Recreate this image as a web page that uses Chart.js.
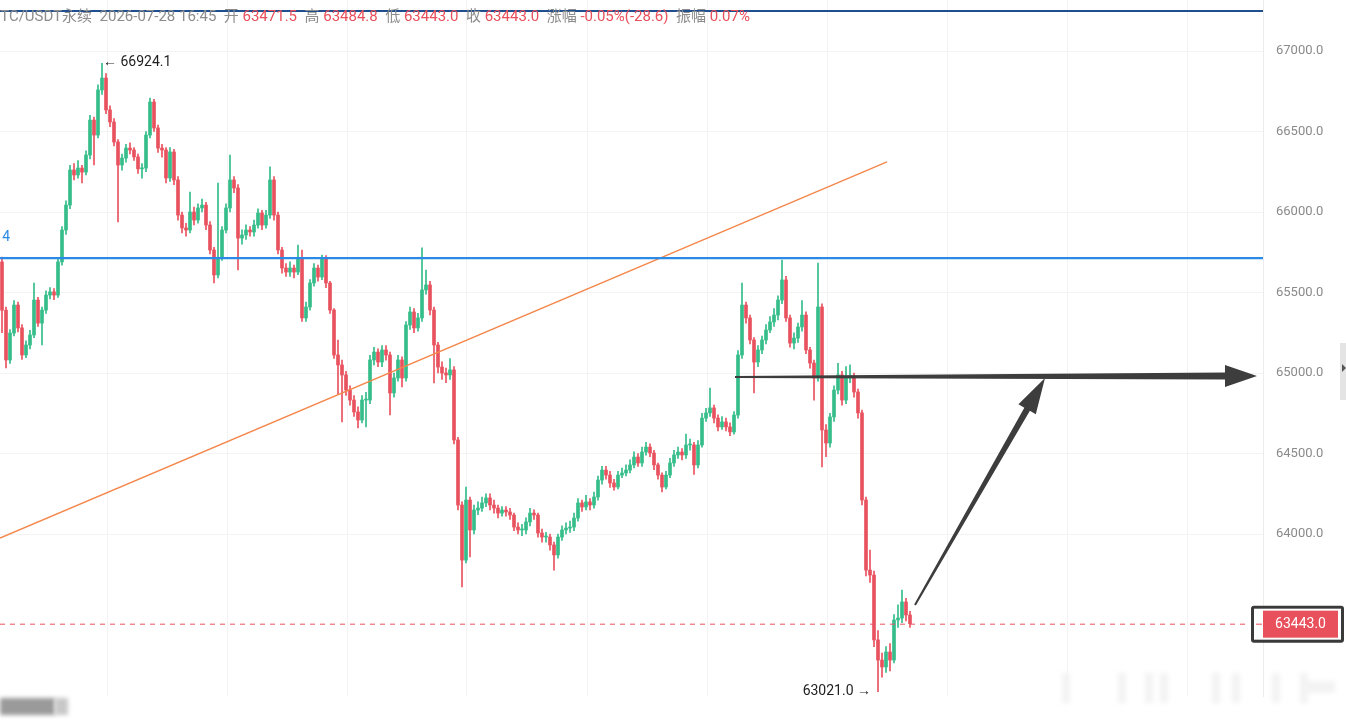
<!DOCTYPE html>
<html>
<head>
<meta charset="utf-8">
<script src="https://cdn.jsdelivr.net/npm/chart.js@4.4.1/dist/chart.umd.min.js"></script>
<style>
  html, body { margin: 0; padding: 0; background: #fff; overflow: hidden; }
  #wrap { position: relative; width: 1346px; height: 720px; }
  #hdr {
    position: absolute; left: -9px; top: 4px; white-space: nowrap;
    font: 15px Roboto, "Noto Sans CJK SC", sans-serif; color: #8c8c8c;
  }
  #hdr .r { color: #e8505b; }
</style>
</head>
<body>
<div id="wrap">
  <canvas id="kline" width="1346" height="720"></canvas>
  <div id="hdr">BTC/USDT永续&nbsp; 2026-07-28 16:45&nbsp; 开 <span class="r">63471.5</span>&nbsp; 高 <span class="r">63484.8</span>&nbsp; 低 <span class="r">63443.0</span>&nbsp; 收 <span class="r">63443.0</span>&nbsp; 涨幅 <span class="r">-0.05%(-28.6)</span>&nbsp; 振幅 <span class="r">0.07%</span></div>
</div>
<script>
// Velas (índice de vela, precios)
const opens = [65690,65390,65081,65248,65422,65280,65112,65174,65236,65453,65310,65391,65484,65504,65484,65690,65888,66043,66261,66230,
  66273,66248,66354,66571,66478,66758,66832,66634,66559,66435,66292,66335,66397,66385,66342,66268,66273,66478,66683,66522,
  66397,66385,66211,66373,66199,65981,65901,65888,66000,65950,66025,66043,65919,65764,65609,65714,65888,66025,66199,66149,
  65838,65857,65888,65876,65919,65994,65919,65981,66199,65981,65764,65652,65627,65652,65627,65714,65342,65410,65559,65652,
  65596,65714,65559,65391,65112,65050,64988,64894,64832,64758,64708,64832,64832,65081,65130,65068,65143,65112,64876,64969,
  65081,64969,65298,65379,65280,65342,65516,65547,65391,65174,65037,65000,64988,65019,64584,64180,63838,64211,64025,64149,
  64161,64193,64224,64180,64161,64130,64149,64137,64118,64043,64025,64025,64075,64130,64118,64006,63981,63981,63932,63870,
  63981,64025,64037,64043,64099,64193,64168,64199,64180,64230,64335,64397,64366,64317,64292,64366,64379,64397,64429,64478,
  64441,64509,64540,64503,64429,64366,64292,64366,64441,64491,64509,64491,64553,64553,64429,64553,64720,64752,64783,64720,
  64665,64696,64665,64634,64739,65112,65422,65342,65205,65068,65143,65205,65267,65317,65360,65453,65578,65342,65186,65217,
  65286,65360,65143,65062,64969,65410,64646,64565,64727,64894,64988,64832,64969,64981,64882,64752,64211,63776,63745,63342,
  63217,63174,63267,63217,63466,63478,63578,63497];
const closes = [65390,65081,65248,65422,65280,65112,65174,65236,65453,65310,65391,65484,65504,65484,65690,65888,66043,66261,66230,66273,
  66248,66354,66571,66478,66758,66832,66634,66559,66435,66292,66335,66397,66385,66342,66268,66273,66478,66683,66522,66397,
  66385,66211,66373,66199,65981,65901,65888,66000,65950,66025,66043,65919,65764,65609,65714,65888,66025,66199,66149,65838,
  65857,65888,65876,65919,65994,65919,65981,66199,65981,65764,65652,65627,65652,65627,65714,65342,65410,65559,65652,65596,
  65714,65559,65391,65112,65050,64988,64894,64832,64758,64708,64832,64832,65081,65130,65068,65143,65112,64876,64969,65081,
  64969,65298,65379,65280,65342,65516,65547,65391,65174,65037,65000,64988,65019,64584,64180,63838,64211,64025,64149,64161,
  64193,64224,64180,64161,64130,64149,64137,64118,64043,64025,64025,64075,64130,64118,64006,63981,63981,63932,63870,63981,
  64025,64037,64043,64099,64193,64168,64199,64180,64230,64335,64397,64366,64317,64292,64366,64379,64397,64429,64478,64441,
  64509,64540,64503,64429,64366,64292,64366,64441,64491,64509,64491,64553,64553,64429,64553,64720,64752,64783,64720,64665,
  64696,64665,64634,64739,65112,65422,65342,65205,65068,65143,65205,65267,65317,65360,65453,65578,65342,65186,65217,65286,
  65360,65143,65062,64969,65410,64646,64565,64727,64894,64988,64832,64969,64981,64882,64752,64211,63776,63745,63342,63217,
  63174,63267,63217,63466,63478,63578,63497,63443];
const highs = [65720,65410,65270,65450,65440,65300,65200,65265,65559,65470,65410,65510,65530,65525,65715,65910,66070,66290,66300,66320,
  66290,66380,66600,66590,66790,66924.1,66860,66660,66580,66450,66360,66420,66430,66400,66360,66300,66500,66708,66700,66540,
  66420,66400,66400,66390,66220,66000,65930,66124,66030,66050,66080,66060,65940,65780,66180,65910,66050,66354,66220,66170,
  65890,65920,65910,65950,66020,66010,66010,66280,66220,66000,65780,65680,65690,65670,65795,65764,65440,65580,65680,65670,
  65733,65730,65570,65400,65205,65080,65010,64920,64860,64790,64860,64880,65110,65160,65150,65170,65170,65130,65000,65110,
  65100,65320,65410,65400,65370,65777,65640,65570,65410,65190,65070,65030,65090,65040,64600,64200,64292,64230,64180,64200,
  64230,64250,64250,64210,64180,64170,64170,64160,64130,64070,64060,64100,64160,64150,64130,64030,64010,64000,63950,64000,
  64050,64070,64080,64130,64220,64210,64240,64220,64260,64360,64420,64420,64390,64340,64390,64410,64430,64460,64510,64500,
  64540,64570,64560,64520,64440,64380,64390,64470,64520,64540,64530,64620,64590,64570,64580,64750,64780,64907,64800,64740,
  64730,64720,64690,64760,65140,65559,65440,65360,65220,65170,65230,65300,65350,65400,65480,65702,65600,65360,65250,65310,
  65450,65380,65160,65080,65683,65430,64680,64750,64920,65060,65010,65040,65050,65000,64900,64770,64230,63900,63770,63400,
  63260,63300,63320,63500,63560,63652,63600,63520];
const lows = [65250,65031,65060,65230,65255,65085,65095,65150,65220,65290,65174,65370,65460,65455,65470,65670,65860,66020,66200,66210,
  66180,66230,66330,66292,66460,66730,66610,66530,66410,65938,66260,66310,66360,66320,66240,66210,66250,66460,66500,66370,
  66340,66180,66190,66170,65950,65870,65850,65870,65920,65930,66000,65890,65740,65559,65590,65700,65870,66000,66120,65640,
  65800,65830,65850,65850,65900,65890,65900,65960,65950,65740,65620,65600,65600,65590,65610,65320,65320,65390,65540,65570,
  65580,65530,65370,65090,64870,64696,64860,64800,64730,64659,64690,64665,64810,65050,65040,65040,65080,64739,64850,64950,
  64913,64950,65270,65250,65260,65320,65490,65360,64938,65000,64960,64940,64960,64560,64150,63671,63820,63857,64000,64120,
  64140,64170,64150,64130,64100,64110,64110,64090,64020,64000,63990,64000,64050,64090,63980,63950,63950,63900,63776,63850,
  63960,64000,64010,64020,64080,64140,64150,64150,64160,64210,64310,64340,64290,64273,64280,64350,64360,64380,64410,64420,
  64420,64490,64480,64400,64340,64261,64280,64350,64420,64470,64460,64470,64520,64370,64410,64540,64700,64730,64690,64640,
  64650,64640,64610,64620,64720,65090,65310,65180,64876,65040,65120,65180,65250,65290,65330,65430,65320,65160,65150,65190,
  65260,65120,65030,64832,64950,64416,64480,64540,64700,64870,64800,64810,64940,64850,64720,64180,63740,63700,63300,63021.0,
  63110,63140,63150,63200,63420,63450,63460,63420];

// Líneas dibujadas sobre el gráfico (índice de vela, precio)
const topLinePrice = 67248;
const resistPrice = 65714;
const lastPrice = 63443.0;
const trendLine = [{ x: -0.5, y: 63975 }, { x: 221.25, y: 66311 }];
const arrowFlat = [{ x: 183.25, y: 64975 }, { x: 313.75, y: 64981 }];
const arrowUp = [{ x: 228.25, y: 63559 }, { x: 260.75, y: 64969 }];
const yTicks = [64000, 64500, 65000, 65500, 66000, 66500, 67000];
const maxLabel = { idx: 25, price: 66924.1 };
const minLabel = { idx: 219, price: 63021.0 };

const UP = '#35bd8a';
const DOWN = '#e8525f';

const candleColors = closes.map((c, i) => c >= opens[i] ? UP : DOWN);
const wickData = closes.map((c, i) => ({ x: i, y: [lows[i], highs[i]] }));
const bodyData = closes.map((c, i) => ({ x: i, y: [opens[i], c] }));

function drawArrow(ctx, p1, p2, w1, w2, headLen, headW, color) {
    const ang = Math.atan2(p2.y - p1.y, p2.x - p1.x);
    const cs = Math.cos(ang), sn = Math.sin(ang);
    const nx = -sn, ny = cs;
    const bx = p2.x - cs * headLen, by = p2.y - sn * headLen;
    ctx.save();
    ctx.fillStyle = color;
    ctx.beginPath();
    ctx.moveTo(p1.x + nx * w1, p1.y + ny * w1);
    ctx.lineTo(bx + nx * w2, by + ny * w2);
    ctx.lineTo(bx + nx * headW, by + ny * headW);
    ctx.lineTo(p2.x, p2.y);
    ctx.lineTo(bx - nx * headW, by - ny * headW);
    ctx.lineTo(bx - nx * w2, by - ny * w2);
    ctx.lineTo(p1.x - nx * w1, p1.y - ny * w1);
    ctx.closePath();
    ctx.fill();
    ctx.restore();
}

const overlayPlugin = {
    id: 'overlay',
    afterDatasetsDraw(chart) {
        const { ctx, chartArea, scales } = chart;
        const xs = scales.x, ys = scales.y;
        const px = p => ({ x: xs.getPixelForValue(p.x), y: ys.getPixelForValue(p.y) });
        ctx.save();

        // línea superior
        const yTop = ys.getPixelForValue(topLinePrice);
        ctx.strokeStyle = '#1f4f8f';
        ctx.lineWidth = 2;
        ctx.beginPath(); ctx.moveTo(0, yTop); ctx.lineTo(chartArea.right, yTop); ctx.stroke();

        // resistencia azul
        const yRes = ys.getPixelForValue(resistPrice);
        ctx.strokeStyle = '#2b8ae6';
        ctx.lineWidth = 2.2;
        ctx.beginPath(); ctx.moveTo(0, yRes); ctx.lineTo(chartArea.right, yRes); ctx.stroke();
        ctx.fillStyle = '#2b8ae6';
        ctx.font = '14px Roboto, sans-serif';
        ctx.textAlign = 'right';
        ctx.textBaseline = 'middle';
        ctx.fillText('4', 10, yRes - 21);

        // precio actual
        const yLast = ys.getPixelForValue(lastPrice);
        ctx.strokeStyle = '#e8525f';
        ctx.lineWidth = 1;
        ctx.setLineDash([5, 5]);
        ctx.beginPath(); ctx.moveTo(0, yLast + 0.5); ctx.lineTo(1250, yLast + 0.5); ctx.stroke();
        ctx.setLineDash([]);

        // flechas
        drawArrow(ctx, px(arrowFlat[0]), px(arrowFlat[1]), 1, 3.5, 32, 11, '#3d3d3d');
        drawArrow(ctx, px(arrowUp[0]), px(arrowUp[1]), 1, 3.2, 36, 10, '#3d3d3d');

        // máximos y mínimos
        ctx.fillStyle = '#1e1e1e';
        ctx.font = '14px Roboto, sans-serif';
        const pMax = px({ x: maxLabel.idx, y: maxLabel.price });
        ctx.textAlign = 'left';
        ctx.fillText('← ' + maxLabel.price.toFixed(1), pMax.x + 1, pMax.y - 1);
        const pMin = px({ x: minLabel.idx, y: minLabel.price });
        ctx.textAlign = 'right';
        ctx.fillText(minLabel.price.toFixed(1) + ' →', pMin.x - 7, pMin.y);

        // etiqueta del precio
        ctx.fillStyle = '#3a3a3a';
        ctx.beginPath(); ctx.roundRect(1251, yLast - 18, 93, 37, 3); ctx.fill();
        ctx.fillStyle = '#ffffff';
        ctx.fillRect(1254, yLast - 15, 87, 31);
        ctx.fillStyle = '#e8505b';
        ctx.fillRect(1263, yLast - 13, 75, 27);
        ctx.fillRect(1256, yLast, 6, 1);
        ctx.fillStyle = '#ffffff';
        ctx.font = '14px Roboto, sans-serif';
        ctx.textAlign = 'center';
        ctx.fillText(lastPrice.toFixed(1), 1300.5, yLast + 1);

        // pestaña lateral
        ctx.fillStyle = '#e4e4e4';
        ctx.fillRect(1340, 343, 6, 57);
        ctx.fillStyle = '#555';
        ctx.beginPath(); ctx.moveTo(1342, 364); ctx.lineTo(1346, 368); ctx.lineTo(1342, 372); ctx.fill();

        // etiquetas del eje x difuminadas
        ctx.filter = 'blur(2px)';
        ctx.fillStyle = '#9a9a9a';
        ctx.fillRect(0, 698, 55, 17);
        ctx.fillStyle = '#c8c8c8';
        ctx.fillRect(55, 698, 13, 17);
        ctx.fillStyle = '#f3f3f3';
        [1062, 1118, 1145, 1160, 1212, 1232, 1272, 1300].forEach(x => ctx.fillRect(x, 673, 8, 30));
        ctx.fillRect(1305, 681, 30, 12);
        ctx.filter = 'none';
        ctx.restore();
    }
};

const ctx = document.getElementById('kline');
new Chart(ctx, {
    type: 'bar',
    data: {
        datasets: [
            {
                type: 'line',
                data: trendLine,
                borderColor: '#f4864a',
                borderWidth: 1.3,
                pointRadius: 0,
                order: 0
            },
            {
                data: wickData,
                backgroundColor: candleColors,
                barThickness: 1,
                grouped: false,
                order: 2
            },
            {
                data: bodyData,
                backgroundColor: candleColors,
                barThickness: 3,
                minBarLength: 1,
                grouped: false,
                order: 1
            }
        ]
    },
    options: {
        responsive: false,
        animation: false,
        layout: { autoPadding: false, padding: { left: 0, right: 0, top: 0, bottom: 24 } },
        plugins: { legend: { display: false }, tooltip: { enabled: false } },
        scales: {
            x: {
                type: 'linear',
                min: -0.5,
                max: 315.25,
                offset: false,
                afterBuildTicks: s => {
                    const t = [];
                    for (let v = 26.25; v < 315; v += 30) t.push({ value: v });
                    s.ticks = t;
                },
                ticks: { display: false },
                grid: { color: '#f3f3f3', drawTicks: false, offset: false },
                border: { display: false }
            },
            y: {
                position: 'right',
                min: 62993.8,
                max: 67316.8,
                afterBuildTicks: s => { s.ticks = yTicks.map(v => ({ value: v })); },
                // ancho fijo del eje y sin margen extra arriba/abajo
                afterFit: s => { s.width = 83; s.paddingTop = 0; s.paddingBottom = 0; },
                ticks: {
                    color: '#8a8a8a',
                    padding: 13,
                    font: { size: 13, family: 'Roboto' },
                    callback: v => Number(v).toFixed(1)
                },
                grid: { color: '#f3f3f3', drawTicks: false },
                border: { display: true, color: '#ececec' }
            }
        }
    },
    plugins: [overlayPlugin]
});
</script>
</body>
</html>
